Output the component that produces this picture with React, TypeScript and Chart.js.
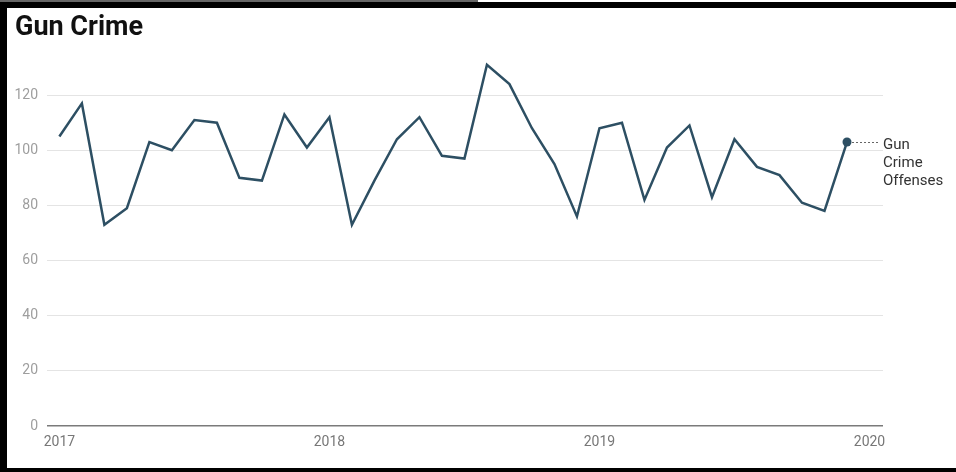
import React, { useEffect, useRef } from "react";
import { Chart, registerables } from "chart.js";

Chart.register(...registerables);

const months = [
  "2017-01", "2017-02", "2017-03", "2017-04", "2017-05", "2017-06",
  "2017-07", "2017-08", "2017-09", "2017-10", "2017-11", "2017-12",
  "2018-01", "2018-02", "2018-03", "2018-04", "2018-05", "2018-06",
  "2018-07", "2018-08", "2018-09", "2018-10", "2018-11", "2018-12",
  "2019-01", "2019-02", "2019-03", "2019-04", "2019-05", "2019-06",
  "2019-07", "2019-08", "2019-09", "2019-10", "2019-11", "2019-12",
];

const gunCrimeOffenses = [
  105, 117, 73, 79, 103, 100, 111, 110, 90, 89, 113, 101,
  112, 73, 89, 104, 112, 98, 97, 131, 124, 108, 95, 76,
  108, 110, 82, 101, 109, 83, 104, 94, 91, 81, 78, 103,
];

const yearLabels = ["2017", "2018", "2019", "2020"];
const yTicks = [0, 20, 40, 60, 80, 100, 120];
const seriesLabel = ["Gun", "Crime", "Offenses"];
const title = "Gun Crime";

const LINE_COLOR = "#2d4f63";

const endLabelPlugin = {
  id: "endLabel",
  afterDatasetsDraw(chart: any) {
    const meta = chart.getDatasetMeta(0);
    const pts = meta.data;
    const p = pts[pts.length - 1];
    if (!p) return;
    const ctx = chart.ctx;
    ctx.save();
    ctx.strokeStyle = "#666";
    ctx.lineWidth = 1;
    ctx.setLineDash([2, 2]);
    ctx.beginPath();
    ctx.moveTo(p.x + 5, Math.round(p.y) + 0.5);
    ctx.lineTo(p.x + 32, Math.round(p.y) + 0.5);
    ctx.stroke();
    ctx.setLineDash([]);
    ctx.fillStyle = "#333";
    ctx.font = "15px Roboto";
    ctx.textBaseline = "middle";
    ctx.textAlign = "left";
    seriesLabel.forEach((t, i) => {
      ctx.fillText(t, p.x + 36, p.y + 3 + i * 18);
    });
    ctx.restore();
  },
};

export default function App() {
  const canvasRef = useRef<HTMLCanvasElement | null>(null);

  useEffect(() => {
    if (!canvasRef.current) return;
    const lastIdx = gunCrimeOffenses.length - 1;
    const chart = new Chart(canvasRef.current, {
      type: "line",
      data: {
        labels: months,
        datasets: [
          {
            label: "Gun Crime Offenses",
            data: gunCrimeOffenses.map((v, i) => ({ x: i, y: v })),
            borderColor: LINE_COLOR,
            backgroundColor: LINE_COLOR,
            borderWidth: 2.5,
            tension: 0,
            pointRadius: gunCrimeOffenses.map((_, i) => (i === lastIdx ? 4.5 : 0)),
            pointBackgroundColor: LINE_COLOR,
            pointBorderWidth: 0,
          },
        ],
      },
      options: {
        responsive: false,
        animation: false,
        layout: { padding: { left: 0, right: 73, top: 40, bottom: 0 } },
        plugins: {
          legend: { display: false },
          tooltip: { enabled: false },
          title: { display: false },
        },
        scales: {
          x: {
            type: "linear",
            min: -0.55,
            max: 36.6,
            grid: { display: false, drawTicks: false },
            border: { display: false },
            afterBuildTicks: (scale: any) => {
              scale.ticks = yearLabels.map((_, i) => ({ value: i * 12 }));
            },
            afterFit: (scale: any) => {
              scale.height = 46;
            },
            ticks: {
              autoSkip: false,
              maxRotation: 0,
              padding: 8,
              color: "#777",
              font: { family: "Roboto", size: 14 },
              callback: (v: any) => yearLabels[Math.round(Number(v) / 12)] ?? "",
            },
          },
          y: {
            min: 0,
            max: 140,
            grid: {
              drawTicks: false,
              color: (c: any) => (c.tick && c.tick.value === 0 ? "#7a7a7a" : "#e4e4e4"),
              lineWidth: (c: any) => (c.tick && c.tick.value === 0 ? 1.5 : 1),
            },
            border: { display: false },
            afterBuildTicks: (scale: any) => {
              scale.ticks = yTicks.map((v) => ({ value: v }));
            },
            afterFit: (scale: any) => {
              scale.width = 47;
            },
            ticks: {
              padding: 9,
              color: "#9e9e9e",
              font: { family: "Roboto", size: 14 },
            },
          },
        },
      },
      plugins: [endLabelPlugin],
    });
    return () => chart.destroy();
  }, []);

  return (
    <div
      style={{
        position: "absolute",
        left: 0,
        top: 0,
        width: 956,
        height: 472,
        background: "#fff",
        overflow: "hidden",
      }}
    >
      <canvas
        ref={canvasRef}
        width={956}
        height={472}
        style={{ position: "absolute", left: 0, top: 0, width: 956, height: 472 }}
      />
      <div
        style={{
          position: "absolute",
          left: 15,
          top: 14,
          fontFamily: "Roboto",
          fontWeight: 700,
          fontSize: 27,
          lineHeight: "24px",
          color: "#111",
          whiteSpace: "nowrap",
        }}
      >
        {title}
      </div>
      <div style={{ position: "absolute", left: 0, top: 0, width: 478, height: 2, background: "#666" }} />
      <div style={{ position: "absolute", left: 0, top: 2, width: 956, height: 6, background: "#000" }} />
      <div style={{ position: "absolute", left: 0, top: 2, width: 7, height: 470, background: "#000" }} />
      <div style={{ position: "absolute", left: 0, top: 468, width: 956, height: 4, background: "#000" }} />
    </div>
  );
}
